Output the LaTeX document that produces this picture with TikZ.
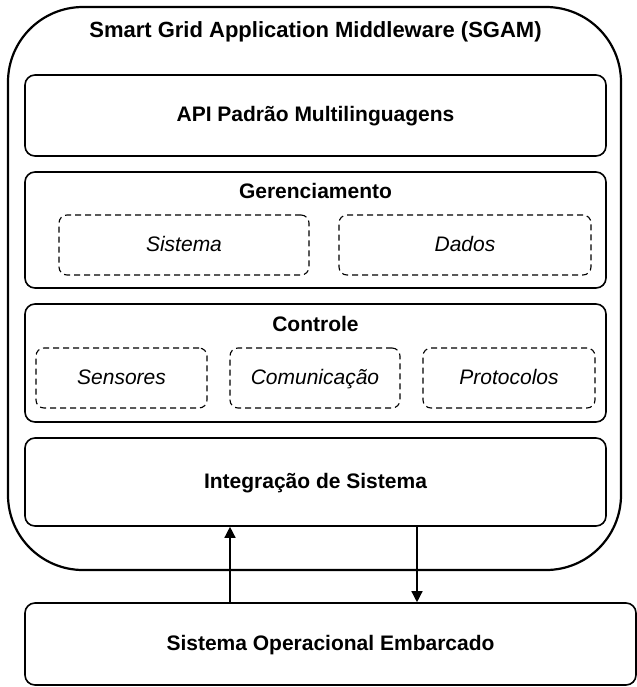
\documentclass[tikz,border=0pt]{standalone}
\usepackage{fontspec}
\setmainfont{Liberation Sans}
\usepackage{tikz}
\usetikzlibrary{arrows.meta}

\tikzset{
  layer/.style={draw, line width=0.8pt, rounded corners=5pt, minimum width=290.5pt, text height=1.6ex, text depth=0.45ex, font=\fontsize{10.5}{12}\selectfont\bfseries},
  part/.style={draw, line width=0.55pt, dash pattern=on 3pt off 2pt, rounded corners=4pt, minimum height=30pt, text height=1.6ex, text depth=0.45ex, font=\fontsize{10.5}{12}\selectfont\itshape},
  heading/.style={font=\fontsize{10.5}{12}\selectfont\bfseries}
}

\begin{document}
\begin{tikzpicture}[x=0.5pt, y=-0.5pt]
\useasboundingbox (0,0) rectangle (637,687);
\node [draw, line width=1.1pt, rounded corners=37.5pt, minimum width=306.5pt, minimum height=281.5pt] (sgam) at (314.5,288.5) {};
\node [heading, font=\fontsize{11}{13}\selectfont\bfseries] (sgamtitle) at (315.5,32) {Smart Grid Application Middleware (SGAM)};
\node [layer, minimum height=40.5pt] (api) at (315.5,115.5) {API Padrão Multilinguagens};
\node [layer, minimum height=58pt] (ger) at (315.5,230) {};
\node [heading] (gertitle) at (315.5,191) {Gerenciamento};
\node [part, minimum width=125pt] (sistema) at (184,245) {Sistema};
\node [part, minimum width=126pt] (dados) at (465,245) {Dados};
\node [layer, minimum height=59pt] (ctrl) at (315.5,363) {};
\node [heading] (ctrltitle) at (315.5,324) {Controle};
\node [part, minimum width=85.5pt] (sensores) at (121.5,378) {Sensores};
\node [part, minimum width=85pt] (comunicacao) at (315,378) {Comunicação};
\node [part, minimum width=86pt] (protocolos) at (509,378) {Protocolos};
\node [layer, minimum height=44pt] (integ) at (315.5,482) {Integração de Sistema};
\node [layer, minimum width=305.5pt, minimum height=41pt] (soe) at (330.5,644) {Sistema Operacional Embarcado};
\coordinate (upline) at (230,0);
\coordinate (downline) at (417,0);
\draw [line width=0.7pt] [-{Triangle[length=5.5pt, width=5.5pt]}] (upline |- soe.north) -- (upline |- integ.south);
\draw [line width=0.7pt] [-{Triangle[length=5.5pt, width=5.5pt]}] (downline |- integ.south) -- (downline |- soe.north);
\end{tikzpicture}
\end{document}
